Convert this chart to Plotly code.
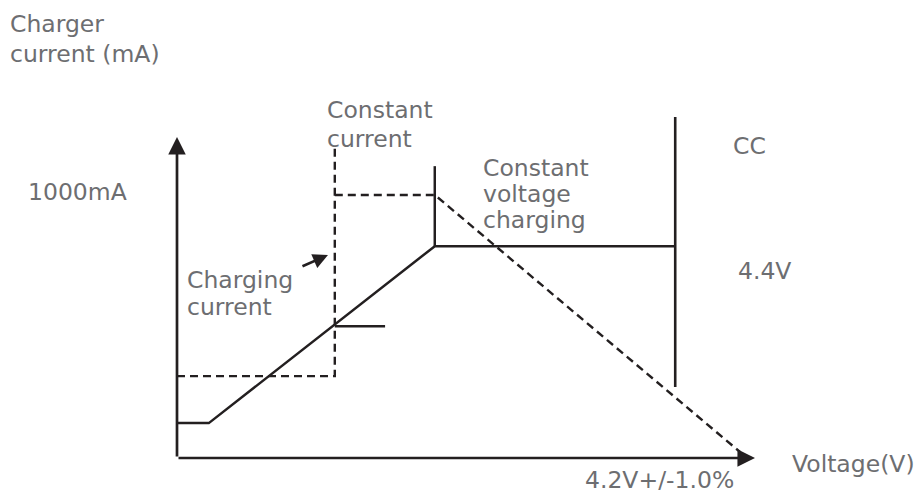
import plotly.graph_objects as go

# ---- schematic data (abstract units: voltage axis 0..100, current axis 0..100) ----
cv_x = [0, 5.5, 44.6, 86.2]          # solid charging curve
cv_y = [10.9, 10.9, 66.2, 66.2]
cv_tick_x = [44.6, 44.6]             # vertical solid mark at CV start
cv_tick_y = [66.2, 91.2]
cc_mark_x = [27.3, 36.0]             # short solid mark at CC start
cc_mark_y = [41.2, 41.2]
limit_x = [86.2, 86.2]               # 4.4V limit line
limit_y = [22.2, 106.6]
dash_step_x = [0, 27.3, 27.3]        # dashed pre-charge step
dash_step_y = [25.6, 25.6, 96.9]
dash_fall_x = [27.3, 44.6, 97.4]     # dashed current profile
dash_fall_y = [82.2, 82.2, 1.9]
axis_max_x = 100
axis_max_y = 100.3

labels = [
    ("Charger", -29.24, 135.6),
    ("current (mA)", -29.24, 126.25),
    ("1000mA", -26.12, 83.1),
    ("Constant", 25.61, 108.75),
    ("current", 25.61, 99.7),
    ("CC", 95.85, 97.5),
    ("Constant", 52.6, 90.6),
    ("voltage", 52.6, 82.5),
    ("charging", 52.6, 74.4),
    ("4.4V", 96.71, 58.4),
    ("Charging", 1.38, 55.6),
    ("current", 1.38, 47.2),
    ("4.2V+/-1.0%", 70.24, -6.9),
    ("Voltage(V)", 106.06, -1.9),
]
pointer_tail = (21.45, 59.7)
pointer_head = (26.12, 63.4)

INK = "#231f20"
GRAY = "#6d6e71"
FONT = "DejaVu Sans"

fig = go.Figure()

def seg(xs, ys, dash=None, width=2.5):
    fig.add_trace(go.Scatter(
        x=xs, y=ys, mode="lines",
        line=dict(color=INK, width=width, dash=dash),
        hoverinfo="skip", showlegend=False,
    ))

seg(cv_x, cv_y)
seg(cv_tick_x, cv_tick_y)
seg(cc_mark_x, cc_mark_y)
seg(limit_x, limit_y, width=2.6)
seg(dash_step_x, dash_step_y, dash="8px,5px", width=2.4)
seg(dash_fall_x, dash_fall_y, dash="8px,5px", width=2.4)

# axes drawn as arrows
for (hx, hy) in [(axis_max_x, 0), (0, axis_max_y)]:
    fig.add_annotation(
        x=hx, y=hy, ax=0, ay=0, xref="x", yref="y", axref="x", ayref="y",
        text="", showarrow=True, arrowhead=2, arrowsize=1.3,
        arrowwidth=2.7, arrowcolor=INK,
    )

# pointer arrow
fig.add_annotation(
    x=pointer_head[0], y=pointer_head[1], ax=pointer_tail[0], ay=pointer_tail[1],
    xref="x", yref="y", axref="x", ayref="y",
    text="", showarrow=True, arrowhead=2, arrowsize=1.15,
    arrowwidth=2.6, arrowcolor=INK,
)

for txt, lx, ly in labels:
    fig.add_annotation(
        x=lx, y=ly, xref="x", yref="y", text=txt, showarrow=False,
        xanchor="left", yanchor="middle",
        font=dict(family=FONT, size=23.5, color=GRAY),
    )

fig.update_layout(
    width=922, height=494,
    margin=dict(l=0, r=0, t=0, b=0),
    paper_bgcolor="white", plot_bgcolor="white",
    xaxis=dict(range=[-29.24, 130.28], visible=False, fixedrange=True),
    yaxis=dict(range=[-13.75, 140.625], visible=False, fixedrange=True),
    hovermode=False,
)

fig.write_html("out.html", config={"displayModeBar": False})
